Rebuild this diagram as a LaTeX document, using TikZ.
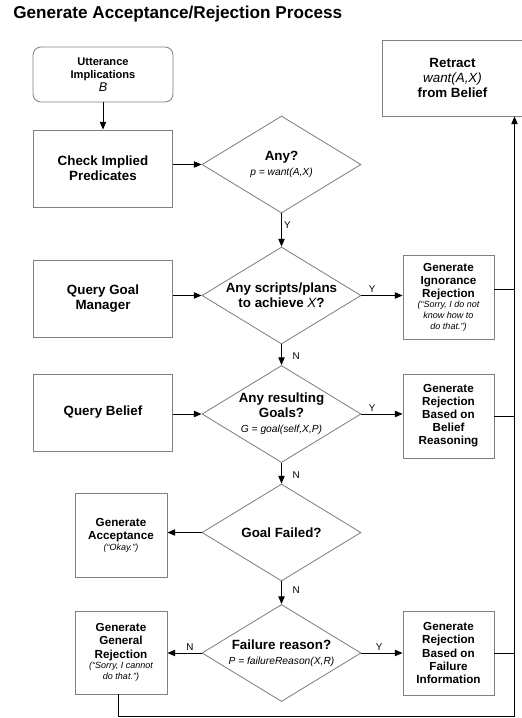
\documentclass[tikz,border=0pt]{standalone}
\usepackage{fontspec}
\setmainfont{Liberation Sans}
\usetikzlibrary{positioning,calc,arrows.meta,shapes.geometric}
\newcommand{\formula}[1]{{\fontsize{7.3}{8.4}\selectfont\mdseries\itshape #1}}
\newcommand{\quotetext}[1]{{\fontsize{6.4}{7.6}\selectfont\mdseries\itshape #1\par}}

\begin{document}
\begin{tikzpicture}[
        x=0.025cm, y=-0.025cm,
        >={Triangle[length=5.5pt,width=4.5pt]},
        bigbox/.style={draw=black!50, line width=0.6pt, minimum width=3.475cm, minimum height=1.925cm, align=center, font=\fontsize{9.5}{10.8}\selectfont\bfseries},
        smallbox/.style={draw=black!50, line width=0.6pt, minimum width=2.275cm, minimum height=2.1cm, text width=2.2cm, inner sep=0pt, align=flush center, font=\fontsize{8.3}{9.3}\selectfont\bfseries},
        decision/.style={diamond, aspect=1.64, draw=black!50, line width=0.6pt, minimum width=3.975cm, minimum height=2.425cm, inner sep=0pt, align=center, font=\fontsize{9.5}{10.8}\selectfont\bfseries},
        flow/.style={->, line width=0.7pt},
        link/.style={line width=0.7pt},
        yn/.style={font=\fontsize{7}{8}\selectfont, inner sep=1.5pt}
    ]
    \useasboundingbox (0,0) rectangle (521,718);

    % Title
    \node[anchor=base west, inner sep=0pt, font=\fontsize{12.2}{14}\selectfont\bfseries] (title) at (13,18) {Generate Acceptance/Rejection Process};

    % Left column
    \node[draw=black!50, line width=0.6pt, rounded corners=0.2cm, minimum width=3.5cm, minimum height=1.375cm, align=center, font=\fontsize{7.9}{9.2}\selectfont\bfseries] (utter) at (103,74.5) {Utterance\\Implications\\{\fontsize{9}{10}\selectfont\mdseries\itshape B}};
    \node[bigbox] (check) at (103,168.5) {Check Implied\\Predicates};
    \node[bigbox] (goalmgr) at (103,298.5) {Query Goal\\Manager};
    \node[bigbox] (qbelief) at (103,412.5) {Query Belief};
    \node[smallbox, minimum width=2.3cm] (accept) at (121,535) {Generate\\Acceptance\par\quotetext{(“Okay.”)}};
    \node[smallbox, minimum width=2.3cm, minimum height=2.075cm] (general) at (121,652.5) {Generate\\General\\Rejection\par\quotetext{(“Sorry, I cannot\\do that.”)}};

    % Decisions
    \node[decision] (any) at (281.5,164.5) {Any?\\\formula{p = want(A,X)}};
    \node[decision] (scripts) at (281.5,295.5) {Any scripts/plans\\to achieve {\mdseries\itshape X}?};
    \node[decision] (goals) at (281.5,414) {Any resulting\\Goals?\\\formula{G = goal(self,X,P)}};
    \node[decision] (failed) at (281.5,532.5) {Goal Failed?};
    \node[decision] (reason) at (281.5,653) {Failure reason?\\\formula{P = failureReason(X,R)}};

    % Right column
    \node[bigbox, minimum width=3.525cm, minimum height=1.9cm] (retract) at (452.5,78) {Retract\\{\mdseries\itshape want(A,X)}\\from Belief};
    \node[smallbox] (ignor) at (448.5,297) {Generate\\Ignorance\\Rejection\par\quotetext{(“Sorry, I do not\\know how to\\do that.”)}};
    \node[smallbox] (beliefrej) at (448.5,416) {Generate\\Rejection\\Based on\\Belief\\Reasoning};
    \node[smallbox] (failinfo) at (448.5,653) {Generate\\Rejection\\Based on\\Failure\\Information};

    % Arrows
    \draw[flow] (utter.south) -- (check.north);
    \draw[flow] (check.east |- any.west) -- (any.west);
    \draw[flow] (any.south) -- node[yn, right, pos=0.35] {Y} (scripts.north);
    \draw[flow] (goalmgr.east |- scripts.west) -- (scripts.west);
    \draw[flow] (scripts.east) -- node[yn, above, pos=0.26] {Y} (scripts.east -| ignor.west);
    \draw[flow] (scripts.south) -- node[yn, right=6pt, pos=0.55] {N} (goals.north);
    \draw[flow] (qbelief.east |- goals.west) -- (goals.west);
    \draw[flow] (goals.east) -- node[yn, above, pos=0.26] {Y} (goals.east -| beliefrej.west);
    \draw[flow] (goals.south) -- node[yn, right=6pt, pos=0.6] {N} (failed.north);
    \draw[flow] (failed.west) -- (failed.west -| accept.east);
    \draw[flow] (failed.south) -- node[yn, right=6pt, pos=0.4] {N} (reason.north);
    \draw[flow] (reason.west) -- node[yn, above, pos=0.34] {N} (reason.west -| general.east);
    \draw[flow] (reason.east) -- node[yn, above, pos=0.43] {Y} (failinfo.west);

    % Return line to Retract
    \coordinate (rail) at (514.5,716);
    \draw[link] ([yshift=5pt]ignor.east) -- ([yshift=5pt]ignor.east -| rail);
    \draw[link] (beliefrej.east) -- (beliefrej.east -| rail);
    \draw[link] (failinfo.east) -- (failinfo.east -| rail);
    \draw[flow] ([xshift=-2pt]general.south) -- ([xshift=-2pt]general.south |- rail) -- (rail) -- (rail |- retract.south);
\end{tikzpicture}
\end{document}
